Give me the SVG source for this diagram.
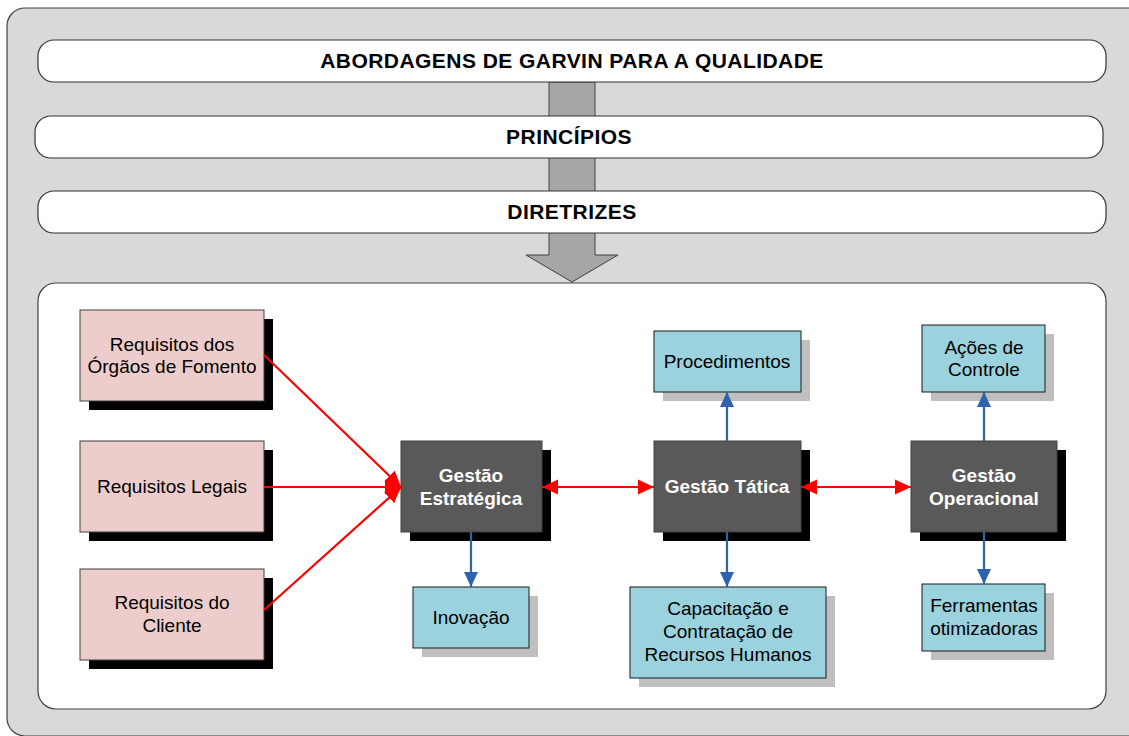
<svg xmlns="http://www.w3.org/2000/svg" width="1129" height="736" viewBox="0 0 1129 736">
<defs>
<style>
.banner{fill:#ffffff;stroke:#333333;stroke-width:1.2}
.btxt{font-family:"Liberation Sans",Arial,sans-serif;font-weight:bold;font-size:21px;letter-spacing:0.45px;fill:#000;text-anchor:middle}
.pink{fill:#eccdcb;stroke:#404040;stroke-width:1}
.dark{fill:#595959;stroke:#404040;stroke-width:1}
.blue{fill:#9ad2de;stroke:#1a1a1a;stroke-width:1}
.shb{fill:#000000}
.shg{fill:#bfbfbf}
.t{font-family:"Liberation Sans",Arial,sans-serif;font-size:19px;fill:#000;text-anchor:middle}
.tw{font-family:"Liberation Sans",Arial,sans-serif;font-size:19px;font-weight:bold;fill:#fff;text-anchor:middle}
.red{stroke:#ff0000;stroke-width:2.2;fill:none}
.bl{stroke:#2e62ad;stroke-width:2.2;fill:none}
</style>
<marker id="ra" markerUnits="userSpaceOnUse" markerWidth="17" markerHeight="17" viewBox="0 0 17 17" refX="16" refY="8.5" orient="auto-start-reverse">
<path d="M0,1 L16,8.5 L0,16 Z" fill="#ff0000"/>
</marker>
<marker id="ba" markerUnits="userSpaceOnUse" markerWidth="16" markerHeight="16" viewBox="0 0 16 16" refX="15" refY="8" orient="auto">
<path d="M0,1 L15,8 L0,15 Z" fill="#2e62ad"/>
</marker>
</defs>
<g id="background">
<rect x="7" y="8" width="1140" height="728" rx="18" fill="#d9d9d9" stroke="#404040" stroke-width="1.2"/>
<polygon points="549,82 595,82 595,255 618,255 572,282 526,255 549,255" fill="#a6a6a6" stroke="#404040" stroke-width="1"/>
</g>
<g id="banner-abordagens">
<rect class="banner" x="38" y="40" width="1068" height="42" rx="16"/>
<text class="btxt" x="572" y="68">ABORDAGENS DE GARVIN PARA A QUALIDADE</text>
</g>
<g id="banner-principios">
<rect class="banner" x="35" y="116" width="1068" height="42" rx="16"/>
<text class="btxt" x="569" y="144">PRINCÍPIOS</text>
</g>
<g id="banner-diretrizes">
<rect class="banner" x="38" y="191" width="1068" height="42" rx="16"/>
<text class="btxt" x="572" y="219">DIRETRIZES</text>
</g>
<g id="panel">
<rect x="38" y="283" width="1068" height="426" rx="18" fill="#ffffff" stroke="#404040" stroke-width="1.2"/>
</g>
<g id="req-fomento">
<rect class="shb" x="89" y="319" width="184" height="91"/>
<rect class="pink" x="80" y="310" width="184" height="91"/>
<text class="t" x="172" y="351">Requisitos dos</text>
<text class="t" x="172" y="373">Órgãos de Fomento</text>
</g>
<g id="req-legais">
<rect class="shb" x="89" y="450" width="184" height="91"/>
<rect class="pink" x="80" y="441" width="184" height="91"/>
<text class="t" x="172" y="493">Requisitos Legais</text>
</g>
<g id="req-cliente">
<rect class="shb" x="89" y="578" width="184" height="91"/>
<rect class="pink" x="80" y="569" width="184" height="91"/>
<text class="t" x="172" y="609">Requisitos do</text>
<text class="t" x="172" y="632">Cliente</text>
</g>
<g id="gestao-estrategica">
<rect class="shb" x="410" y="450" width="141" height="91"/>
<rect class="dark" x="401" y="441" width="141" height="91"/>
<text class="tw" x="471" y="482">Gestão</text>
<text class="tw" x="471" y="505">Estratégica</text>
</g>
<g id="gestao-tatica">
<rect class="shb" x="663" y="450" width="147" height="91"/>
<rect class="dark" x="654" y="441" width="147" height="91"/>
<text class="tw" x="727" y="493">Gestão Tática</text>
</g>
<g id="gestao-operacional">
<rect class="shb" x="920" y="450" width="146" height="91"/>
<rect class="dark" x="911" y="441" width="146" height="91"/>
<text class="tw" x="984" y="482">Gestão</text>
<text class="tw" x="984" y="505">Operacional</text>
</g>
<g id="procedimentos">
<rect class="shg" x="663" y="340" width="147" height="61"/>
<rect class="blue" x="654" y="331" width="147" height="61"/>
<text class="t" x="727" y="368">Procedimentos</text>
</g>
<g id="acoes-controle">
<rect class="shg" x="931" y="334" width="123" height="67"/>
<rect class="blue" x="922" y="325" width="123" height="67"/>
<text class="t" x="984" y="354">Ações de</text>
<text class="t" x="984" y="376">Controle</text>
</g>
<g id="inovacao">
<rect class="shg" x="422" y="596" width="116" height="61"/>
<rect class="blue" x="413" y="587" width="116" height="61"/>
<text class="t" x="471" y="624">Inovação</text>
</g>
<g id="capacitacao">
<rect class="shg" x="639" y="596" width="196" height="91"/>
<rect class="blue" x="630" y="587" width="196" height="91"/>
<text class="t" x="728" y="615">Capacitação e</text>
<text class="t" x="728" y="638">Contratação de</text>
<text class="t" x="728" y="661">Recursos Humanos</text>
</g>
<g id="ferramentas">
<rect class="shg" x="931" y="593" width="123" height="67"/>
<rect class="blue" x="922" y="584" width="123" height="67"/>
<text class="t" x="984" y="612">Ferramentas</text>
<text class="t" x="984" y="635">otimizadoras</text>
</g>
<g id="connectors">
<line class="red" x1="264" y1="355" x2="401" y2="487" marker-end="url(#ra)"/>
<line class="red" x1="264" y1="487" x2="401" y2="487" marker-end="url(#ra)"/>
<line class="red" x1="264" y1="610" x2="401" y2="487" marker-end="url(#ra)"/>
<line class="red" x1="542" y1="487" x2="654" y2="487" marker-start="url(#ra)" marker-end="url(#ra)"/>
<line class="red" x1="801" y1="487" x2="911" y2="487" marker-start="url(#ra)" marker-end="url(#ra)"/>
<line class="bl" x1="471" y1="532" x2="471" y2="587" marker-end="url(#ba)"/>
<line class="bl" x1="727" y1="441" x2="727" y2="392" marker-end="url(#ba)"/>
<line class="bl" x1="727" y1="532" x2="727" y2="587" marker-end="url(#ba)"/>
<line class="bl" x1="984" y1="441" x2="984" y2="392" marker-end="url(#ba)"/>
<line class="bl" x1="984" y1="532" x2="984" y2="584" marker-end="url(#ba)"/>
</g>
</svg>
